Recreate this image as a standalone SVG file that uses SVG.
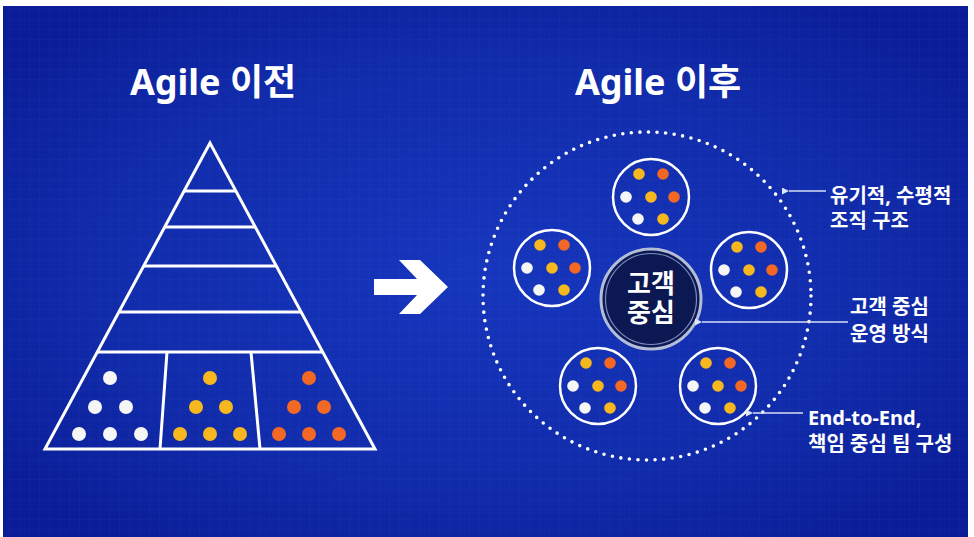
<svg xmlns="http://www.w3.org/2000/svg" width="974" height="537" viewBox="0 0 974 537">
<defs>
<radialGradient id="bg" cx="50%" cy="50%" r="65%">
<stop offset="0" stop-color="#1636bd"/>
<stop offset="0.6" stop-color="#112cab"/>
<stop offset="1" stop-color="#0a1c96"/>
</radialGradient>
<pattern id="grid" width="10" height="10" patternUnits="userSpaceOnUse">
<path d="M10 0 V10 M0 10 H10" stroke="#5f7ee0" stroke-width="0.6" stroke-opacity="0.16" fill="none"/>
</pattern>
<marker id="ah" viewBox="0 0 10 10" refX="0" refY="5" markerWidth="7" markerHeight="7" markerUnits="userSpaceOnUse" orient="auto-start-reverse">
<path d="M0 5 L10 0 L10 10 Z" fill="#dfe6fb"/>
</marker>
<g id="team">
<circle r="38" fill="none" stroke="#ffffff" stroke-width="2.5"/>
<circle cx="-12" cy="-23" r="5.8" class="y"/>
<circle cx="12" cy="-23" r="5.8" class="o"/>
<circle cx="-25" cy="0" r="5.8" class="w"/>
<circle cx="0" cy="0" r="5.8" class="y"/>
<circle cx="23" cy="0" r="5.8" class="o"/>
<circle cx="-13" cy="22" r="5.8" class="w"/>
<circle cx="12" cy="22" r="5.8" class="y"/>
</g>
</defs>
<style>
.w{fill:#f6f6f6}
.y{fill:#f7b81f}
.o{fill:#f26824}
.title{font-family:"Noto Sans","Noto Sans CJK KR",sans-serif;font-weight:700;font-size:36px;fill:#ffffff}
.lbl{font-family:"Noto Sans","Noto Sans CJK KR",sans-serif;font-weight:700;font-size:20px;fill:#ffffff}
.ctr{font-family:"Liberation Sans","Noto Sans CJK KR",sans-serif;font-weight:700;font-size:26px;fill:#ffffff}
.pl{stroke:#ffffff;stroke-width:3;fill:none;stroke-linejoin:miter}
.ptr{stroke:#d6def8;stroke-width:1.3;fill:none}
</style>
<rect x="0" y="0" width="974" height="537" fill="#ffffff"/>
<rect x="3" y="6" width="965" height="531" fill="url(#bg)"/>
<rect x="3" y="6" width="965" height="531" fill="url(#grid)"/>

<g id="title-before"><text class="title" x="213" y="95" text-anchor="middle">Agile 이전</text></g>
<g id="title-after"><text class="title" x="658" y="95" text-anchor="middle">Agile 이후</text></g>

<g id="pyramid">
<path class="pl" d="M210 143 L375 449 L45 449 Z"/>
<path class="pl" d="M184 191 H236 M165 227 H255 M144 266 H276 M119 312 H301 M97 352 H323 M167 352 L160 449 M251 352 L260 449"/>
<g id="dots-white">
<circle cx="110" cy="378" r="7" class="w"/>
<circle cx="95" cy="407" r="7" class="w"/>
<circle cx="126" cy="407" r="7" class="w"/>
<circle cx="79" cy="434" r="7" class="w"/>
<circle cx="110" cy="434" r="7" class="w"/>
<circle cx="141" cy="434" r="7" class="w"/>
</g>
<g id="dots-yellow">
<circle cx="210" cy="378" r="7" class="y"/>
<circle cx="196" cy="407" r="7" class="y"/>
<circle cx="226" cy="407" r="7" class="y"/>
<circle cx="180" cy="434" r="7" class="y"/>
<circle cx="210" cy="434" r="7" class="y"/>
<circle cx="240" cy="434" r="7" class="y"/>
</g>
<g id="dots-orange">
<circle cx="309" cy="378" r="7" class="o"/>
<circle cx="294" cy="407" r="7" class="o"/>
<circle cx="324" cy="407" r="7" class="o"/>
<circle cx="279" cy="434" r="7" class="o"/>
<circle cx="309" cy="434" r="7" class="o"/>
<circle cx="339" cy="434" r="7" class="o"/>
</g>
</g>

<g id="transition-arrow">
<polygon points="374,279 417,279 399,260 420,260 448,287 420,314 399,314 417,295 374,295" fill="#ffffff"/>
</g>

<g id="org-boundary">
<circle cx="647" cy="296" r="164" fill="none" stroke="#ffffff" stroke-width="3.6" stroke-linecap="round" stroke-dasharray="0 8.6"/>
</g>

<g id="team-top"><use href="#team" x="651" y="197"/></g>
<g id="team-left"><use href="#team" x="552" y="268"/></g>
<g id="team-right"><use href="#team" x="749" y="270"/></g>
<g id="team-bottom-left"><use href="#team" x="598" y="386"/></g>
<g id="team-bottom-right"><use href="#team" x="718" y="386"/></g>

<g id="customer-center">
<circle cx="651" cy="299" r="50" fill="#0b1852" stroke="#b4bdd8" stroke-width="3"/>
<circle cx="651" cy="299" r="45.5" fill="none" stroke="#7d8cc0" stroke-width="1.2"/>
<text class="ctr" text-anchor="middle"><tspan x="651" y="293">고객</tspan><tspan x="651" y="322">중심</tspan></text>
</g>

<g id="connectors">
<path class="ptr" d="M826 191 H789" marker-end="url(#ah)"/>
<path class="ptr" d="M848 322 H702" marker-end="url(#ah)"/>
<path class="ptr" d="M803 413 H753" marker-end="url(#ah)"/>
</g>

<g id="label-structure">
<text class="lbl" x="830" y="203">유기적, 수평적</text>
<text class="lbl" x="830" y="228">조직 구조</text>
</g>
<g id="label-operation">
<text class="lbl" x="850" y="314">고객 중심</text>
<text class="lbl" x="850" y="341">운영 방식</text>
</g>
<g id="label-team">
<text class="lbl" x="808" y="425">End-to-End,</text>
<text class="lbl" x="808" y="451">책임 중심 팀 구성</text>
</g>
</svg>
